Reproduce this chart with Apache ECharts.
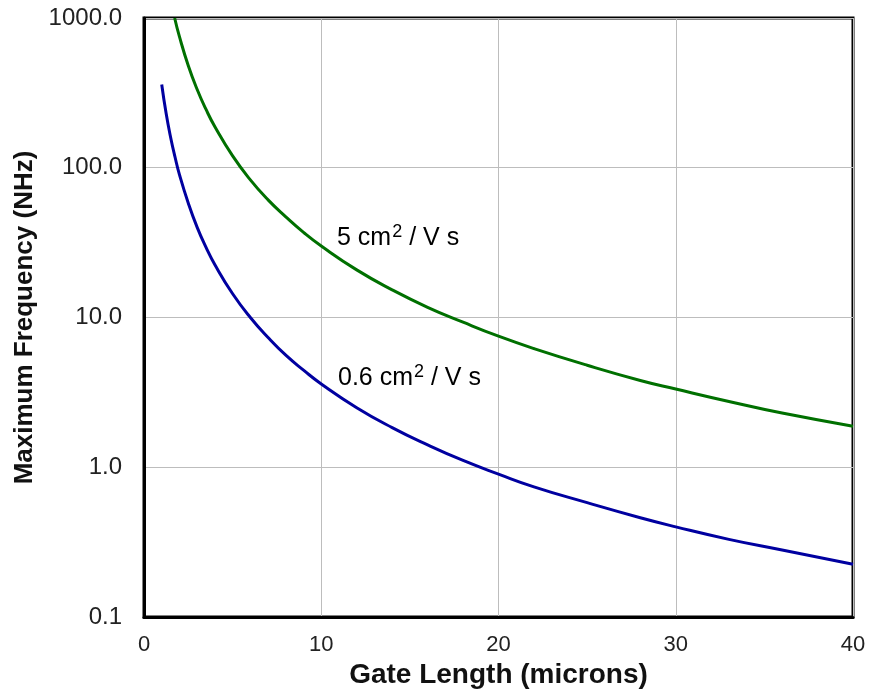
<!DOCTYPE html>
<html>
<head>
<meta charset="utf-8">
<script src="https://cdn.jsdelivr.net/npm/echarts@6/dist/echarts.min.js"></script>
<style>html,body{margin:0;padding:0;background:#fff}#c{width:870px;height:700px}</style>
</head>
<body>
<div id="c"></div>
<script>
// Gate length (microns) and max frequency readings
const blueL = [1, 1.25, 1.5, 1.75, 2, 2.5, 3, 3.5, 4, 5, 6, 7, 8, 9, 10, 12, 14, 16, 18, 20, 22, 25, 28, 30, 33, 36, 40];
const blueF = [360, 230, 160, 118, 90, 58, 40, 29.4, 22.5, 14.4, 10, 7.35, 5.6, 4.45, 3.6, 2.5, 1.84, 1.41, 1.11, 0.9, 0.74, 0.58, 0.46, 0.4, 0.33, 0.28, 0.225];
const greenL = [1.73, 2, 2.5, 3, 3.5, 4, 5, 6, 7, 8, 9, 10, 12, 14, 16, 18, 20, 22, 25, 28, 30, 33, 36, 40];
const greenF = [1000, 750, 480, 333, 245, 188, 120, 83, 61, 47, 37, 30, 20.8, 15.3, 11.7, 9.3, 7.5, 6.2, 4.8, 3.8, 3.33, 2.75, 2.3, 1.88];
const seriesNames = ['5 cm2 / V s', '0.6 cm2 / V s'];
const labelPre = ['5 cm', '0.6 cm'];
const labelPost = ' / V s';
const xTitle = 'Gate Length (microns)';
const yTitle = 'Maximum Frequency (NHz)';

const zip = (a, b) => a.map((v, i) => [v, b[i]]);
const chart = echarts.init(document.getElementById('c'));
const FONT = '"Liberation Sans", Arial, sans-serif';
const richLabel = {
  b: { fontFamily: FONT, fontSize: 25, color: '#222', lineHeight: 28, verticalAlign: 'bottom' },
  s: { fontFamily: FONT, fontSize: 18, color: '#222', lineHeight: 28, verticalAlign: 'top', padding: [0, 0, 0, 1] }
};
chart.setOption({
  animation: false,
  grid: { left: 144, top: 18, right: 17, bottom: 83, show: true, borderColor: '#000', borderWidth: 3 },
  xAxis: {
    type: 'value', min: 0, max: 40, interval: 10,
    name: xTitle, nameLocation: 'middle', nameGap: 42,
    nameTextStyle: { fontFamily: FONT, fontSize: 28, fontWeight: 'bold', color: '#111' },
    axisLine: { show: true, lineStyle: { color: '#000', width: 3 } },
    axisTick: { show: false },
    axisLabel: { fontFamily: FONT, fontSize: 22, color: '#222', margin: 17 },
    splitLine: { show: true, lineStyle: { color: '#bdbdbd', width: 1 } }
  },
  yAxis: {
    type: 'log', logBase: 10, min: 0.1, max: 1000,
    name: yTitle, nameLocation: 'middle', nameGap: 104,
    nameTextStyle: { fontFamily: FONT, fontSize: 26, fontWeight: 'bold', color: '#111' },
    axisLine: { show: true, lineStyle: { color: '#000', width: 3 } },
    axisTick: { show: false },
    axisLabel: { fontFamily: FONT, fontSize: 24, color: '#222', margin: 22, formatter: v => Number(v).toFixed(1) },
    splitLine: { show: true, lineStyle: { color: '#bdbdbd', width: 1 } }
  },
  series: [
    { name: seriesNames[0], type: 'line', data: zip(greenL, greenF), smooth: true, showSymbol: false,
      lineStyle: { color: '#007000', width: 3 }, z: 3 },
    { name: seriesNames[1], type: 'line', data: zip(blueL, blueF), smooth: true, showSymbol: false,
      lineStyle: { color: '#0000a0', width: 3 }, z: 3 }
  ],
  graphic: [
    { type: 'text', left: 337, top: 223, style: { text: '{b|' + labelPre[0] + '}{s|2}{b|' + labelPost + '}', rich: richLabel } },
    { type: 'text', left: 338, top: 363, style: { text: '{b|' + labelPre[1] + '}{s|2}{b|' + labelPost + '}', rich: richLabel } }
  ]
});
</script>
</body>
</html>
